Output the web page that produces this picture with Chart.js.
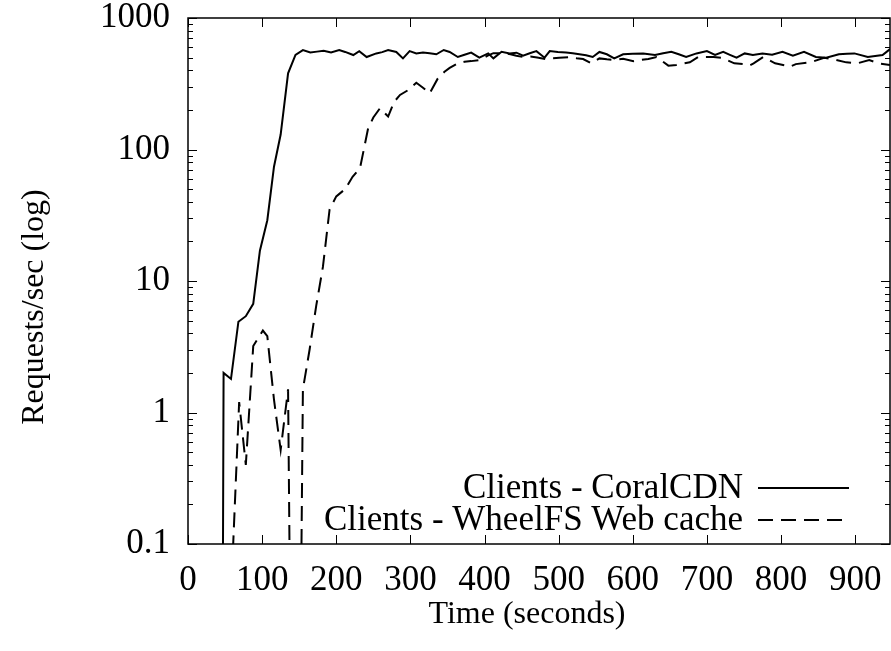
<!DOCTYPE html>
<html lang="en">
<head>
<meta charset="UTF-8">
<title>Requests/sec</title>
<style>
  html, body { margin: 0; padding: 0; background: #fff; }
  #wrap { width: 891px; height: 651px; }
</style>
</head>
<body>
<div id="wrap"><canvas id="myCanvas" width="891" height="651"></canvas></div>

<script src="https://cdn.jsdelivr.net/npm/chart.js@4.4.1/dist/chart.umd.min.js"></script>
<script>
// time (seconds) and requests/sec for each series
const coralTime = [46,48,58,68,78,88,97,107,116,125,135,145,155,165,174,183,193,204,212,223,
  231,241,254,262,270,281,290,299,308,317,326,335,345,353,364,373,382,393,405,412,
  423,434,443,452,461,470,481,488,499,510,519,528,537,546,555,565,575,587,600,614,
  630,641,652,662,672,686,700,711,722,731,740,751,762,775,788,802,816,831,847,861,
  878,889,899,917,937,947];
const coralRate = [0.001,2.0,1.8,4.9,5.4,6.7,17,29,74,130,380,525,570,546,555,564,546,571,552,523,
  560,505,538,550,571,552,493,560,538,546,540,530,571,552,505,525,546,499,538,493,
  554,538,545,517,540,560,499,560,552,546,540,530,520,505,552,530,493,530,535,538,
  523,540,554,530,505,538,560,523,554,525,499,538,523,538,525,554,517,554,505,499,
  530,535,538,505,523,580];

const wheelTime = [58,69,78,88,101,107,116,125,135,145,155,164,173,182,191,200,212,222,232,243,
  250,259,270,278,286,297,308,317,326,337,346,353,364,373,382,393,405,412,427,435,
  443,452,462,471,483,492,501,515,524,533,544,555,565,575,587,601,611,621,632,648,
  659,668,677,688,699,709,720,737,749,757,763,776,792,805,812,820,840,858,870,888,
  903,919,932,947];
const wheelRate = [0.04,1.2,0.4,3.2,4.2,3.8,1.25,0.52,1.5,0.000001,1.5,3.0,6.5,12.8,35,44,50,62,72,145,
  175,206,178,230,260,283,322,295,267,347,390,417,452,465,470,479,520,540,538,530,
  517,505,510,500,487,495,499,505,495,487,452,493,485,479,490,470,480,487,505,434,
  440,450,460,505,505,505,499,452,446,434,452,505,452,437,426,446,460,499,487,460,
  452,479,452,440];

const seriesNames = ['Clients - CoralCDN', 'Clients - WheelFS Web cache'];
const xTitle = 'Time (seconds)';
const yTitle = 'Requests/sec (log)';

const xTicks = [0,100,200,300,400,500,600,700,800,900];
const yTicks = [0.1,1,10,100,1000];
const yTickLabels = ['0.1','1','10','100','1000'];

const FONT = 'Liberation Serif, Times New Roman, serif';
const FSIZE = 35;
const TSIZE = 32;

function pts(xs, ys) {
  return xs.map((x, i) => ({ x: x, y: ys[i] }));
}

// gnuplot style frame with inward ticks on all sides
const framePlugin = {
  id: 'frame',
  afterDraw(chart) {
    const ctx = chart.ctx;
    const a = chart.chartArea;
    const xs = chart.scales.x, ys = chart.scales.y;
    ctx.save();
    ctx.strokeStyle = '#000';
    ctx.lineWidth = 1.5;
    ctx.strokeRect(a.left, a.top, a.right - a.left, a.bottom - a.top);
    ctx.lineWidth = 1;
    ctx.beginPath();
    xTicks.forEach(v => {
      const px = Math.round(xs.getPixelForValue(v)) + 0.5;
      ctx.moveTo(px, a.bottom); ctx.lineTo(px, a.bottom - 9);
      ctx.moveTo(px, a.top); ctx.lineTo(px, a.top + 9);
    });
    for (let d = 0; d < yTicks.length; d++) {
      const base = yTicks[d];
      for (let m = 1; m <= 9; m++) {
        const v = base * m;
        if (v > ys.max * 1.0001) break;
        const len = m === 1 ? 9 : 5;
        const py = Math.round(ys.getPixelForValue(v)) + 0.5;
        ctx.moveTo(a.left, py); ctx.lineTo(a.left + len, py);
        ctx.moveTo(a.right, py); ctx.lineTo(a.right - len, py);
      }
    }
    ctx.stroke();
    ctx.restore();
  }
};

// axis titles, placed where the original figure has them
const titlePlugin = {
  id: 'titles',
  afterDraw(chart) {
    const ctx = chart.ctx;
    const a = chart.chartArea;
    ctx.save();
    ctx.font = TSIZE + 'px ' + FONT;
    ctx.fillStyle = '#000';
    ctx.textAlign = 'center';
    ctx.textBaseline = 'middle';
    ctx.fillText(xTitle, a.left + 339, a.bottom + 71);
    ctx.translate(35, a.top + 289);
    ctx.rotate(-Math.PI / 2);
    ctx.fillText(yTitle, 0, 0);
    ctx.restore();
  }
};

// legend in the lower right, text right-aligned with the sample line after it
const keyPlugin = {
  id: 'key',
  afterDraw(chart) {
    const ctx = chart.ctx;
    const a = chart.chartArea;
    const textRight = a.right - 147;
    const lineStart = a.right - 132;
    const lineEnd = a.right - 41;
    ctx.save();
    ctx.font = FSIZE + 'px ' + FONT;
    ctx.textAlign = 'right';
    ctx.textBaseline = 'middle';
    ctx.fillStyle = '#000';
    chart.data.datasets.forEach((ds, i) => {
      const y = a.bottom - 56 + i * 32;
      ctx.fillText(ds.label, textRight, y + 1);
      ctx.strokeStyle = ds.borderColor;
      ctx.lineWidth = ds.borderWidth;
      ctx.setLineDash(ds.borderDash || []);
      ctx.beginPath();
      ctx.moveTo(lineStart, y);
      ctx.lineTo(lineEnd, y);
      ctx.stroke();
    });
    ctx.restore();
  }
};

let ctx = document.getElementById('myCanvas').getContext('2d');
var chart = new Chart(ctx, {
  type: 'line',
  data: {
    datasets: [{
      label: seriesNames[0],
      data: pts(coralTime, coralRate),
      borderColor: '#000',
      borderWidth: 2,
      borderDash: [],
      pointRadius: 0,
      tension: 0,
      clip: 0
    }, {
      label: seriesNames[1],
      data: pts(wheelTime, wheelRate),
      borderColor: '#000',
      borderWidth: 2,
      borderDash: [15, 8],
      pointRadius: 0,
      tension: 0,
      clip: 0
    }]
  },
  options: {
    responsive: false,
    animation: false,
    layout: { padding: { left: 0, right: 1, top: 18, bottom: 0 } },
    plugins: {
      legend: { display: false },
      tooltip: { enabled: false }
    },
    scales: {
      x: {
        type: 'linear',
        min: 0,
        max: 947,
        grid: { display: false, drawTicks: false },
        border: { display: false },
        afterBuildTicks: s => { s.ticks = xTicks.map(v => ({ value: v })); },
        afterFit: s => { s.height = 107; s.paddingLeft = 0; s.paddingRight = 0; },
        ticks: {
          color: '#000',
          padding: 16,
          maxRotation: 0,
          autoSkip: false,
          font: { family: FONT, size: FSIZE },
          callback: v => String(v)
        }
      },
      y: {
        type: 'logarithmic',
        min: 0.1,
        max: 1000,
        grid: { display: false, drawTicks: false },
        border: { display: false },
        afterBuildTicks: s => { s.ticks = yTicks.map(v => ({ value: v })); },
        afterFit: s => { s.width = 188; s.paddingTop = 0; s.paddingBottom = 0; },
        ticks: {
          color: '#000',
          padding: 18,
          autoSkip: false,
          font: { family: FONT, size: FSIZE },
          callback: (v, i) => yTickLabels[i]
        }
      }
    }
  },
  plugins: [framePlugin, titlePlugin, keyPlugin]
});
</script>
</body>
</html>
